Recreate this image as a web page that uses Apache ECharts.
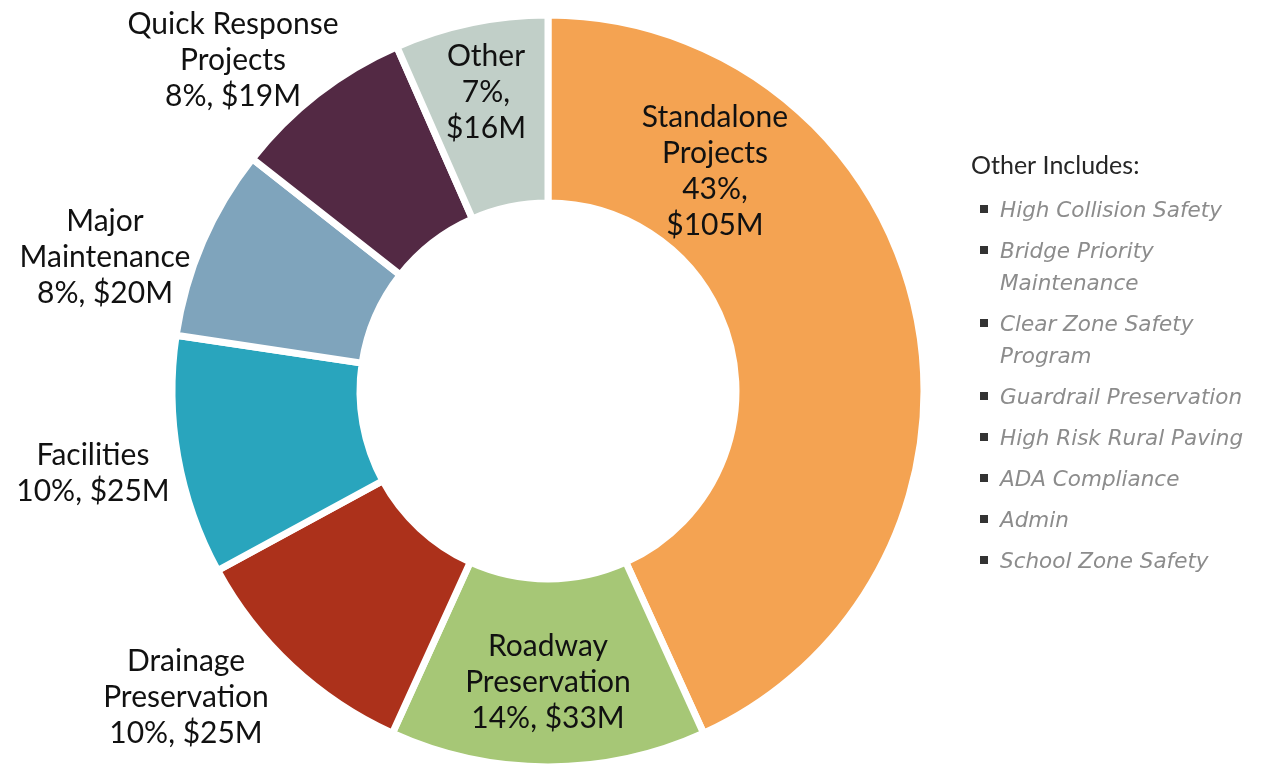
<!DOCTYPE html>
<html>
<head>
<meta charset="utf-8">
<script src="https://cdn.jsdelivr.net/npm/echarts@6/dist/echarts.min.js"></script>
<style>
  html, body { margin: 0; padding: 0; background: #fff; }
  #chart { width: 1270px; height: 766px; }
</style>
</head>
<body>
<div id="chart"></div>
<script>
// program categories, in order clockwise from 12 o'clock
var categories = [
    'Standalone\nProjects',
    'Roadway\nPreservation',
    'Drainage\nPreservation',
    'Facilities',
    'Major\nMaintenance',
    'Quick Response\nProjects',
    'Other'
];
// funding, $M
var values = [105, 33, 25, 25, 20, 19, 16];
var colors = ['#F4A352', '#A6C776', '#AC311B', '#29A5BD', '#7FA4BC', '#532944', '#C1CFC8'];
// items listed under "Other Includes:"
var otherIncludes = [
    'High Collision Safety',
    'Bridge Priority\nMaintenance',
    'Clear Zone Safety\nProgram',
    'Guardrail Preservation',
    'High Risk Rural Paving',
    'ADA Compliance',
    'Admin',
    'School Zone Safety'
];

var FONT = 'Lato, "Noto Sans", sans-serif';

// where each label sits (label centre, px)
var labelPos = [
    [715, 171], [548, 682], [186, 697], [93, 473],
    [105, 257], [233, 60], [486, 92]
];
// labels that break the percent and amount onto two lines
var wrapValue = [true, false, false, false, false, false, true];

var data = values.map(function (v, i) {
    return { name: categories[i], value: v, itemStyle: { color: colors[i] } };
});

// note on the right
var graphics = [{
    type: 'text',
    left: 971,
    top: 153,
    style: { text: 'Other Includes:', fontFamily: FONT, fontSize: 25, fill: '#262626' }
}];
var y = 195;
otherIncludes.forEach(function (t) {
    var lines = t.split('\n').length;
    graphics.push({
        type: 'rect',
        shape: { x: 980, y: y + 10, width: 8, height: 8 },
        style: { fill: '#333' }
    });
    graphics.push({
        type: 'text',
        left: 1000,
        top: y,
        style: {
            text: t,
            fontFamily: 'DejaVu Sans',
            fontStyle: 'italic',
            fontSize: 21.5,
            fill: '#8C8C8C',
            lineHeight: 32
        }
    });
    y += 41 + (lines - 1) * 32;
});

var option = {
    animation: false,
    color: colors,
    graphic: graphics,
    series: [{
        type: 'pie',
        center: [548, 391],
        radius: [188, 376],
        startAngle: 90,
        clockwise: true,
        avoidLabelOverlap: false,
        itemStyle: { borderColor: '#fff', borderWidth: 7 },
        label: {
            show: true,
            position: 'inside',
            color: '#111',
            fontFamily: FONT,
            fontSize: 30,
            lineHeight: 36,
            align: 'center',
            formatter: function (p) {
                var pct = Math.round(p.percent) + '%';
                var amt = '$' + p.value + 'M';
                return p.name + '\n' + pct + (wrapValue[p.dataIndex] ? ',\n' : ', ') + amt;
            }
        },
        labelLine: { show: false },
        labelLayout: function (p) {
            var pos = labelPos[p.dataIndex];
            return { x: pos[0], y: pos[1], align: 'center', verticalAlign: 'middle' };
        },
        emphasis: { disabled: true },
        data: data
    }]
};

var chart = echarts.init(document.getElementById('chart'));
chart.setOption(option);
window.addEventListener('resize', function () {
    chart.resize();
});
</script>
</body>
</html>
